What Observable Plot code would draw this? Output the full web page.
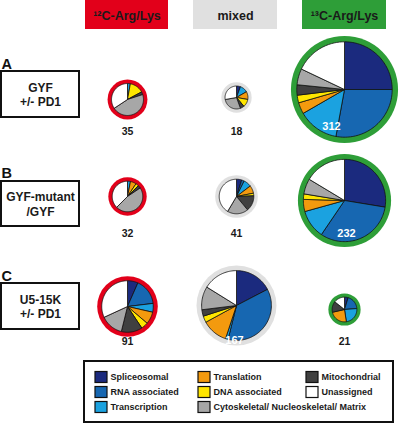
<!DOCTYPE html>
<html>
<head>
<meta charset="utf-8">
<script src="https://cdn.jsdelivr.net/npm/d3@7"></script>
<script src="https://cdn.jsdelivr.net/npm/@observablehq/plot@0.6"></script>
<style>
  html, body { margin: 0; padding: 0; background: #fff; }
  #chart svg { display: block; }
</style>
</head>
<body>
<div id="chart"></div>
<script>
// ---------- DATA ----------
const categories = ["Spliceosomal", "RNA associated", "Transcription", "Translation",
  "DNA associated", "Mitochondrial", "Cytoskeletal/ Nucleoskeletal/ Matrix", "Unassigned"];
const categoryColors = ["#1b2a7e", "#1767b1", "#1ba2e0", "#f39a0e", "#ffe600", "#404040", "#a7a7a7", "#ffffff"];

const conditions = ["¹²C-Arg/Lys", "mixed", "¹³C-Arg/Lys"];
const conditionColors = ["#e2001a", "#e0e0e0", "#2e9e38"];

const panelLetters = ["A", "B", "C"];
const experiments = ["GYF\n+/- PD1", "GYF-mutant\n/GYF", "U5-15K\n+/- PD1"];

// protein counts per category (order = categories), row = experiment, col = condition
const countsA12 = [0, 0, 1, 0, 5, 1, 16, 12];
const countsAmix = [1, 0, 2, 2, 2, 1, 5, 5];
const countsA13 = [78, 87, 43, 12, 8, 11, 17, 56];
const countsB12 = [0, 0, 1, 2, 1, 1, 15, 12];
const countsBmix = [2, 1, 3, 3, 1, 6, 8, 17];
const countsB13 = [64, 74, 26, 11, 5, 0, 14, 38];
const countsC12 = [6, 15, 5, 7, 4, 12, 13, 29];
const countsCmix = [29, 61, 2, 20, 5, 5, 18, 27];
const countsC13 = [1, 4, 5, 5, 0, 3, 0, 3];

const totals = [[35, 18, 312], [32, 41, 232], [91, 167, 21]];

const legendColumns = [
  ["Spliceosomal", "RNA associated", "Transcription"],
  ["Translation", "DNA associated", "Cytoskeletal/ Nucleoskeletal/ Matrix"],
  ["Mitochondrial", "Unassigned"]
];

// ---------- LAYOUT ----------
const W = 400, H = 423;
const colX = [127, 236, 344];
const rowPieY = [[99, 97, 89], [196, 196, 200], [306, 305, 309]];
const rowCountY = [131, 233, 341];
const rowBox = [[71, 117], [181, 226], [283, 329]];
const letterY = [64, 173, 276];
const kRadius = 2.7;
// labels drawn inside the pie (white)
const insideLabel = {"0,2": [331, 126], "1,2": [346, 233], "2,1": [234, 340]};

const countsGrid = [[countsA12, countsAmix, countsA13], [countsB12, countsBmix, countsB13], [countsC12, countsCmix, countsC13]];

// Build pie geometry
const ringDots = [];
const slicePts = [];
const countLabels = [];
countsGrid.forEach((row, ri) => {
  row.forEach((counts, ci) => {
    const total = totals[ri][ci];
    const cx = colX[ci], cy = rowPieY[ri][ci];
    const r = kRadius * Math.sqrt(total);
    const ring = 3 + 0.06 * r;
    ringDots.push({x: cx, y: cy, r: r + ring, fill: conditionColors[ci]});
    const sum = d3.sum(counts);
    let a = 0;
    counts.forEach((c, k) => {
      if (c <= 0) return;
      const a0 = a, a1 = a + c / sum * 2 * Math.PI;
      a = a1;
      const key = `${ri}-${ci}-${k}`;
      slicePts.push({key, cat: categories[k], x: cx, y: cy});
      const n = Math.max(2, Math.ceil((a1 - a0) / (Math.PI / 90)));
      for (let s = 0; s <= n; s++) {
        const t = a0 + (a1 - a0) * s / n;
        slicePts.push({key, cat: categories[k], x: cx + r * Math.sin(t), y: cy - r * Math.cos(t)});
      }
      slicePts.push({key, cat: categories[k], x: cx, y: cy});
    });
    const ins = insideLabel[`${ri},${ci}`];
    countLabels.push({
      text: String(total),
      x: ins ? ins[0] : cx,
      y: ins ? ins[1] : rowCountY[ri],
      fill: ins ? "#ffffff" : "#1a1a1a",
      size: ins ? 11 : 10.5
    });
  });
});

// Headers
const headerBoxes = conditions.map((c, i) => ({
  label: c, x1: colX[i] - 42, x2: colX[i] + 42, y1: 0, y2: 29, fill: conditionColors[i]
}));
headerBoxes[2].x1 = 302; headerBoxes[2].x2 = 386;
headerBoxes[1].x1 = 193; headerBoxes[1].x2 = 277;
headerBoxes[0].x1 = 85; headerBoxes[0].x2 = 168;

// Row label boxes
const rowBoxes = experiments.map((e, i) => ({label: e, x1: 1, x2: 79, y1: rowBox[i][0], y2: rowBox[i][1]}));
const letters = panelLetters.map((l, i) => ({label: l, x: 1, y: letterY[i]}));

// Legend
const legendColX = [95, 198, 306];
const legendRowY = [377, 392, 407];
const legendItems = [];
legendColumns.forEach((col, ci) => col.forEach((name, ri) => {
  legendItems.push({name, x: legendColX[ci], y: legendRowY[ri], color: categoryColors[categories.indexOf(name)]});
}));

const font = "'Liberation Sans', Arial, Helvetica, sans-serif";

const chart = Plot.plot({
  width: W, height: H, margin: 0,
  x: {domain: [0, W], range: [0, W], axis: null},
  y: {domain: [0, H], range: [0, H], axis: null},
  r: {type: "identity"},
  color: {domain: categories, range: categoryColors},
  style: {fontFamily: font, background: "#fff", overflow: "visible"},
  marks: [
    // header boxes
    Plot.rect(headerBoxes, {x1: "x1", x2: "x2", y1: "y1", y2: "y2", fill: d => d.fill}),
    Plot.text(headerBoxes, {x: d => (d.x1 + d.x2) / 2, y: 15, text: "label", fontSize: 12.5, fontWeight: "bold", fill: "#1a1a1a"}),
    // row labels
    Plot.rect(rowBoxes, {x1: "x1", x2: "x2", y1: "y1", y2: "y2", fill: "white", stroke: "#111", strokeWidth: 2}),
    Plot.text(rowBoxes, {x: d => (d.x1 + d.x2) / 2, y: d => (d.y1 + d.y2) / 2, text: "label", fontSize: 12, fontWeight: "bold", lineHeight: 1.17, fill: "#1a1a1a"}),
    Plot.text(letters, {x: "x", y: "y", text: "label", textAnchor: "start", fontSize: 14.5, fontWeight: "bold", fill: "#111"}),
    // rings
    Plot.dot(ringDots, {x: "x", y: "y", r: "r", fill: d => d.fill, stroke: null}),
    // pie slices
    Plot.line(slicePts, {x: "x", y: "y", z: "key", fill: "cat", stroke: "#111", strokeWidth: 0.8, strokeLinejoin: "round", curve: "linear"}),
    // counts
    Plot.text(countLabels, {x: "x", y: "y", text: "text", fill: d => d.fill, fontSize: d => d.size, fontWeight: "bold"}),
    // legend
    Plot.rect([{x1: 84, x2: 393, y1: 361, y2: 422}], {x1: "x1", x2: "x2", y1: "y1", y2: "y2", fill: "none", stroke: "#111", strokeWidth: 2}),
    Plot.rect(legendItems, {x1: d => d.x, x2: d => d.x + 12, y1: d => d.y - 5.5, y2: d => d.y + 5.5, fill: d => d.color, stroke: "#111", strokeWidth: 1.2}),
    Plot.text(legendItems, {x: d => d.x + 15, y: "y", text: "name", textAnchor: "start", fontSize: 9, fontWeight: "bold", fill: "#1a1a1a"})
  ]
});
document.getElementById("chart").appendChild(chart);
</script>
</body>
</html>
